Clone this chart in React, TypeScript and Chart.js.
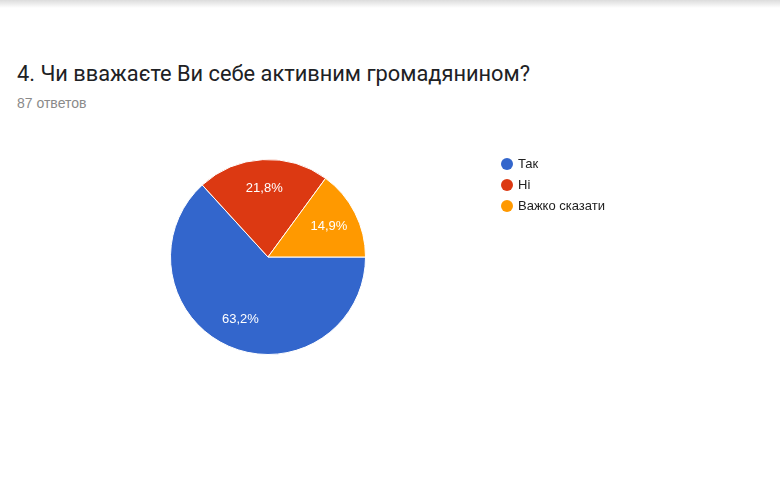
import React, { useEffect, useRef } from "react";
import { Chart, registerables } from "chart.js";

Chart.register(...registerables);

const categories = ["Так", "Ні", "Важко сказати"];
const counts = [55, 19, 13];
const percentLabels = ["63,2%", "21,8%", "14,9%"];
const colors = ["#3366cc", "#dc3912", "#ff9900"];

const titleText = "4. Чи вважаєте Ви себе активним громадянином?";
const subtitleText = "87 ответов";

// white percentage labels inside the slices
const sliceLabels = {
  id: "sliceLabels",
  afterDatasetsDraw(chart: any) {
    const ctx = chart.ctx;
    const meta = chart.getDatasetMeta(0);
    ctx.save();
    ctx.fillStyle = "#ffffff";
    ctx.font = "13px 'Liberation Sans', Arial, sans-serif";
    ctx.textAlign = "center";
    ctx.textBaseline = "middle";
    meta.data.forEach((arc: any, i: number) => {
      const { x, y, startAngle, endAngle, outerRadius } = arc.getProps(
        ["x", "y", "startAngle", "endAngle", "outerRadius"],
        true
      );
      const mid = (startAngle + endAngle) / 2;
      const r = outerRadius * 0.7;
      ctx.fillText(percentLabels[i], x + Math.cos(mid) * r, y + Math.sin(mid) * r);
    });
    ctx.restore();
  },
};

// legend at the right, drawn at fixed spot like the google forms one
const sideLegend = {
  id: "sideLegend",
  afterDraw(chart: any) {
    const ctx = chart.ctx;
    const labels = chart.data.labels;
    const bg = chart.data.datasets[0].backgroundColor;
    ctx.save();
    ctx.font = "13px 'Liberation Sans', Arial, sans-serif";
    ctx.textBaseline = "middle";
    ctx.textAlign = "left";
    labels.forEach((label: string, i: number) => {
      const y = 164 + i * 21;
      ctx.beginPath();
      ctx.fillStyle = bg[i];
      ctx.arc(507, y, 6, 0, Math.PI * 2);
      ctx.fill();
      ctx.fillStyle = "#222222";
      ctx.fillText(label, 518, y);
    });
    ctx.restore();
  },
};

const App = () => {
  const canvasRef = useRef<HTMLCanvasElement>(null);
  const chartRef = useRef<Chart | null>(null);

  useEffect(() => {
    document.body.style.margin = "0";
    if (chartRef.current) chartRef.current.destroy();
    if (canvasRef.current) {
      chartRef.current = new Chart(canvasRef.current, {
        type: "pie",
        data: {
          labels: categories,
          datasets: [
            {
              data: counts,
              backgroundColor: colors,
              borderColor: "#ffffff",
              borderWidth: 1,
            },
          ],
        },
        options: {
          responsive: false,
          animation: false,
          rotation: 90,
          layout: {
            padding: { left: 170, right: 414, top: 159, bottom: 125 },
          },
          plugins: {
            legend: { display: false },
            tooltip: { enabled: false },
          },
        },
        plugins: [sliceLabels, sideLegend],
      });
    }
    return () => {
      if (chartRef.current) {
        chartRef.current.destroy();
        chartRef.current = null;
      }
    };
  }, []);

  return (
    <div
      style={{
        position: "relative",
        width: 780,
        height: 480,
        background: "#ffffff",
        overflow: "hidden",
      }}
    >
      <div
        style={{
          position: "absolute",
          left: 0,
          top: 0,
          width: 780,
          height: 8,
          background: "linear-gradient(#dcdcdc, #ffffff)",
        }}
      />
      <div
        style={{
          position: "absolute",
          left: 17,
          top: 61,
          fontFamily: "Roboto, 'Liberation Sans', Arial, sans-serif",
          fontSize: 21.8,
          color: "#202124",
          whiteSpace: "nowrap",
        }}
      >
        {titleText}
      </div>
      <div
        style={{
          position: "absolute",
          left: 17,
          top: 95,
          fontFamily: "'Liberation Sans', Arial, sans-serif",
          fontSize: 14,
          color: "#8a8a8a",
          whiteSpace: "nowrap",
        }}
      >
        {subtitleText}
      </div>
      <canvas
        ref={canvasRef}
        width={780}
        height={480}
        style={{ position: "absolute", left: 0, top: 0, width: 780, height: 480 }}
      />
    </div>
  );
};

export default App;
